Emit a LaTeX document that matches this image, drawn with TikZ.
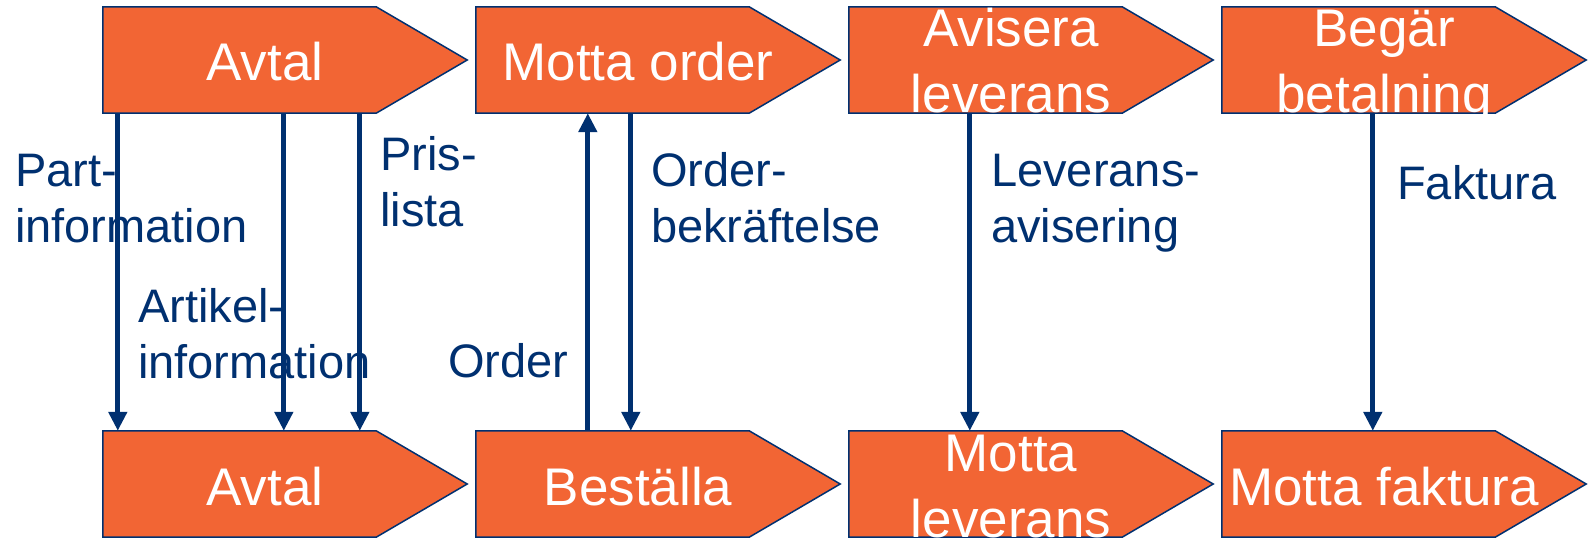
\documentclass[tikz,border=0pt]{standalone}
\usepackage{fontspec}
\setmainfont{Liberation Sans}
\usetikzlibrary{arrows.meta,backgrounds}
\definecolor{navy}{RGB}{0,48,112}
\definecolor{stageorange}{RGB}{242,101,52}
\begin{document}
\begin{tikzpicture}[x=1pt,y=-1pt,
  body/.style={minimum width=273pt,minimum height=106pt,inner sep=0pt,draw=none},
  stagefill/.style={fill=stageorange,draw=navy,line width=1.5pt,line join=miter},
  stagetext/.style={text=white,font=\fontsize{53}{66}\selectfont,align=center,inner sep=0pt,anchor=base},
  lab/.style={text=navy,font=\fontsize{47}{56}\selectfont,align=left,inner sep=0pt,anchor=base west},
  flow/.style={draw=navy,line width=5pt,-{Triangle[length=19pt,width=18pt]}}
]
\useasboundingbox (0,0) rectangle (1591,540);
% stage bodies
\node[body] (a1) at (239.5,60) {};
\node[body] (a2) at (612.5,60) {};
\node[body] (a3) at (985.5,60) {};
\node[body] (a4) at (1358.5,60) {};
\node[body] (b1) at (239.5,484) {};
\node[body] (b2) at (612.5,484) {};
\node[body] (b3) at (985.5,484) {};
\node[body] (b4) at (1358.5,484) {};
\begin{scope}[on background layer]
\fill[white] (0,0) rectangle (1591,540);
\foreach \n in {a1,a2,a3,a4,b1,b2,b3,b4}
  \path[stagefill] (\n.north west) -- (\n.north east) -- ([xshift=91pt]\n.east) -- (\n.south east) -- (\n.south west) -- cycle;
\end{scope}
% connectors
\draw[flow] ([xshift=15pt]a1.south west) -- ([xshift=15pt]b1.north west);
\draw[flow] ([xshift=181pt]a1.south west) -- ([xshift=181pt]b1.north west);
\draw[flow] ([xshift=257pt]a1.south west) -- ([xshift=257pt]b1.north west);
\draw[flow] ([xshift=112pt]b2.north west) -- ([xshift=112pt]a2.south west);
\draw[flow] ([xshift=155pt]a2.south west) -- ([xshift=155pt]b2.north west);
\draw[flow] ([xshift=121pt]a3.south west) -- ([xshift=121pt]b3.north west);
\draw[flow] ([xshift=151pt]a4.south west) -- ([xshift=151pt]b4.north west);
% labels (anchor at baseline of last line)
\node[lab] (l1) at (15,243) {Part-\\information};
\node[lab] (l2) at (138,378) {Artikel-\\information};
\node[lab] (l3) at (380,227) {Pris-\\lista};
\node[lab] (l4) at (448,377) {Order};
\node[lab] (l5) at (651,243) {Order-\\bekräftelse};
\node[lab] (l6) at (991,243) {Leverans-\\avisering};
\node[lab] (l7) at (1397,200) {Faktura};
% stage texts
\node[stagetext] (ta1) at (265,81) {Avtal};
\node[stagetext] (ta2) at (638,81) {Motta order};
\node[stagetext] (ta3) at (1011,113) {Avisera\\leverans};
\node[stagetext] (ta4) at (1384,113) {Begär\\betalning};
\node[stagetext] (tb1) at (265,505) {Avtal};
\node[stagetext] (tb2) at (638,505) {Beställa};
\node[stagetext] (tb3) at (1011,537) {Motta\\leverans};
\node[stagetext] (tb4) at (1384,505) {Motta faktura};
\end{tikzpicture}
\end{document}
